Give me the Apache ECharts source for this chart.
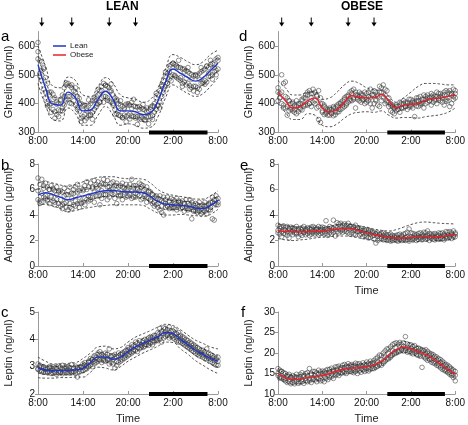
<!DOCTYPE html>
<html><head><meta charset="utf-8">
<script src="https://cdn.jsdelivr.net/npm/echarts@6/dist/echarts.min.js"></script>
<style>html,body{margin:0;padding:0;background:#fff}#c{width:468px;height:425px}</style>
</head><body><div id="c"></div>
<script>
// ---- data (hours since 8:00) ----
const TICK_LABELS = ['8:00','14:00','20:00','2:00','8:00'];
const MEALS = [0.5, 4.5, 9.5, 13];
const SLEEP = [14.8, 22.6];
const KNOTS = [0,1,2,3,4,5,6,7,8,9,10,11,12,13,14,15,16,17,18,19,20,21,22,23,24];
const TIMES = [0,0.25,0.5,0.75,1,1.25,1.5,1.75,2,2.25,2.5,2.75,3,3.25,3.5,3.75,4,4.25,4.5,4.75,5,5.25,5.5,5.75,6,6.25,6.5,6.75,7,7.25,7.5,7.75,8,8.25,8.5,8.75,9,9.25,9.5,9.75,10,10.25,10.5,10.75,11,11.25,11.5,11.75,12,12.25,12.5,12.75,13,13.25,13.5,13.75,14,14.25,14.5,14.75,15,15.25,15.5,15.75,16,16.25,16.5,16.75,17,17.25,17.5,17.75,18,18.25,18.5,18.75,19,19.25,19.5,19.75,20,20.25,20.5,20.75,21,21.25,21.5,21.75,22,22.25,22.5,22.75,23,23.25,23.5,23.75,24];

// a: lean ghrelin
const ghrLeanMean = [535,455,398,395,440,420,375,378,415,443,415,375,375,372,362,368,410,475,520,505,490,478,490,515,540];
const ghrLeanOutUp = [600,530,460,455,492,480,430,425,460,490,470,430,420,415,405,415,455,520,570,560,545,535,545,570,585];
const ghrLeanInUp = [565,485,425,420,465,448,400,402,440,468,442,400,398,395,385,392,435,500,545,530,515,505,515,540,560];
const ghrLeanInLo = [505,425,370,368,412,392,350,352,390,418,388,350,350,348,338,342,385,450,495,480,465,452,465,490,515];
const ghrLeanOutLo = [470,395,345,340,385,365,325,325,360,390,360,325,330,325,315,318,355,420,465,450,435,425,435,460,490];
const ghrLeanA = [612,548,545,520,490,470,430,440,415,420,405,400,410,430,455,465,470,462,455,445,440,425,418,400,390,395,385,392,400,410,412,425,430,445,460,470,465,460,455,445,430,420,410,400,395,390,385,398,400,395,405,392,390,388,380,385,380,378,385,375,380,392,400,420,430,445,460,480,495,505,530,535,540,535,530,525,525,520,510,515,510,505,500,495,500,495,505,510,515,520,530,525,535,540,525,555,550];
const ghrLeanB = [580,505,480,450,420,400,395,370,380,350,362,378,375,385,395,410,415,425,400,410,395,380,372,338,355,362,350,358,360,370,380,388,398,405,420,425,425,420,410,405,395,380,365,360,358,352,360,355,360,365,358,355,350,355,345,352,350,345,352,355,355,360,370,380,392,405,425,440,460,470,485,495,500,495,490,485,480,470,475,465,470,462,455,460,460,455,450,470,470,480,475,495,495,500,510,515,520];
const ghrLeanC = [555,495,515,525,440,392,440,400,433,372,398,355,415,375,425,472,425,402,465,427,455,387,400,349,395,341,375,413,363,346,420,400,450,405,445,405,463,412,443,468,400,362,415,376,410,351,380,337,395,347,383,415,357,328,390,358,397,342,372,330,388,345,390,436,395,385,465,452,510,470,510,479,540,498,525,550,490,460,520,487,525,450,485,444,498,439,485,525,475,467,530,505,550,485,535,500,560];

// b: lean adiponectin
const adiLeanMean = [5.55,5.75,5.6,5.4,5.2,5.35,5.5,5.65,5.8,5.9,5.92,5.85,5.8,5.8,5.75,5.45,5.05,4.85,4.8,4.75,4.7,4.55,4.5,4.75,5.15];
const adiLeanOutUp = [6.5,6.6,6.5,6.35,6.25,6.4,6.6,6.8,6.95,7.0,7.0,6.9,6.85,6.85,6.8,6.5,6.0,5.7,5.55,5.45,5.35,5.25,5.25,5.5,5.9];
const adiLeanInUp = [6.0,6.2,6.05,5.85,5.65,5.8,5.95,6.1,6.25,6.35,6.37,6.3,6.25,6.25,6.2,5.9,5.5,5.25,5.15,5.1,5.05,4.9,4.85,5.1,5.5];
const adiLeanInLo = [5.1,5.3,5.15,4.95,4.75,4.9,5.05,5.2,5.35,5.45,5.47,5.4,5.35,5.35,5.3,5.0,4.6,4.45,4.45,4.4,4.35,4.2,4.15,4.4,4.8];
const adiLeanOutLo = [4.75,4.85,4.7,4.5,4.25,4.35,4.5,4.6,4.7,4.75,4.8,4.8,4.8,4.8,4.75,4.45,4.15,4.0,4.0,4.05,4.0,3.95,3.9,4.05,4.45];
const adiLeanA = [6.9,6.4,6.8,6.3,6.5,6.2,6.0,6.3,6.1,5.9,6.2,5.8,5.9,5.8,6.1,5.6,5.9,6.2,5.7,6.0,6.2,6.4,5.9,6.1,6.0,6.3,6.6,6.2,6.5,6.2,6.7,6.4,6.6,6.3,6.5,6.8,6.4,6.7,6.2,6.5,6.6,6.3,6.5,6.2,6.3,6.5,6.1,6.4,6.2,6.4,6.8,6.3,6.3,6.1,6.5,6.2,6.3,6.0,6.2,5.9,5.8,5.6,5.4,5.5,5.3,5.5,5.1,5.4,5.2,5.4,5.0,5.3,5.2,5.1,5.3,5.0,5.0,5.1,4.9,5.2,4.9,5.2,5.0,4.8,4.9,4.8,5.0,4.7,4.8,5.0,4.7,4.9,5.0,5.4,5.2,5.5,5.0];
const adiLeanB = [5.2,4.9,5.0,5.4,5.3,5.1,4.9,5.5,5.1,4.8,5.2,4.9,4.7,4.5,4.9,4.6,4.4,4.6,4.5,4.8,4.7,4.9,4.6,5.0,5.0,4.8,5.2,5.1,5.2,5.4,5.0,5.5,5.5,4.8,5.3,5.6,5.6,5.2,5.4,5.7,5.6,5.3,4.9,5.5,5.5,5.2,5.6,5.4,5.5,5.6,5.3,5.4,5.4,5.6,5.5,5.2,5.3,5.5,5.0,5.3,5.1,4.9,4.7,4.8,4.6,4.4,4.2,4.0,4.6,4.7,4.5,4.6,4.5,4.6,4.4,4.7,4.5,4.6,4.3,4.5,4.4,4.5,3.7,4.3,4.3,4.2,4.3,4.1,4.2,4.3,4.1,4.4,4.4,3.7,3.6,4.8,4.8];
const adiLeanC = [5.9,5.1,5.7,6.1,5.5,5.2,6.0,5.4,6.0,5.0,5.6,5.9,5.2,4.8,5.5,5.0,5.6,4.9,5.3,5.7,5.1,5.8,5.4,4.9,5.9,5.3,6.0,5.5,5.4,6.1,5.8,6.2,6.1,5.5,5.9,6.4,5.6,6.2,5.9,6.0,6.1,5.7,6.3,5.8,5.6,6.2,5.8,6.0,6.0,5.7,5.9,6.1,5.7,6.0,5.9,6.4,5.9,5.6,5.4,5.8,5.2,5.6,5.0,5.3,4.9,5.2,4.7,5.0,4.9,4.7,5.1,4.8,4.6,4.9,4.8,5.1,4.8,4.6,4.9,4.7,4.5,4.8,4.6,4.4,4.6,4.4,4.7,4.5,4.4,4.7,4.5,4.8,4.6,5.0,4.9,5.2,5.3];

// c: lean leptin
const lepLeanMean = [2.95,2.88,2.85,2.86,2.87,2.88,2.95,3.15,3.35,3.35,3.27,3.35,3.55,3.72,3.85,3.97,4.1,4.25,4.2,4.0,3.8,3.6,3.45,3.3,3.2];
const lepLeanOutUp = [3.35,3.2,3.1,3.1,3.12,3.15,3.3,3.5,3.72,3.75,3.65,3.7,3.9,4.08,4.2,4.32,4.45,4.55,4.5,4.35,4.15,3.97,3.85,3.72,3.65];
const lepLeanInUp = [3.13,3.05,3.0,3.01,3.02,3.03,3.12,3.32,3.52,3.53,3.45,3.52,3.72,3.9,4.02,4.14,4.27,4.42,4.37,4.18,3.98,3.79,3.65,3.51,3.42];
const lepLeanInLo = [2.77,2.71,2.7,2.71,2.72,2.73,2.78,2.98,3.18,3.17,3.09,3.18,3.38,3.54,3.68,3.8,3.93,4.08,4.03,3.82,3.62,3.41,3.25,3.09,2.98];
const lepLeanOutLo = [2.6,2.58,2.58,2.6,2.6,2.62,2.62,2.8,2.98,2.95,2.88,3.0,3.2,3.35,3.5,3.62,3.75,3.9,3.88,3.65,3.45,3.22,3.05,2.88,2.75];
const lepLeanA = [3.1,3.05,2.98,3.0,2.95,2.92,3.0,2.97,3.0,2.95,2.98,3.02,2.98,3.05,2.95,3.0,3.0,2.97,3.08,2.95,3.02,2.95,2.98,3.0,3.1,3.15,3.05,3.2,3.3,3.25,3.4,3.35,3.5,3.55,3.45,3.4,3.5,3.45,3.65,3.4,3.4,3.45,3.35,3.5,3.45,3.5,3.55,3.6,3.7,3.65,3.8,3.75,3.9,3.85,3.95,3.8,3.95,4.0,3.9,4.05,4.1,4.05,4.15,4.0,4.25,4.4,4.3,4.42,4.4,4.35,4.45,4.3,4.3,4.35,4.2,4.25,4.15,4.1,4.05,4.0,3.95,3.9,3.85,3.8,3.75,3.7,3.65,3.6,3.6,3.55,3.65,3.5,3.45,3.4,3.35,3.3,3.35];
const lepLeanB = [2.9,2.85,2.82,2.8,2.8,2.78,2.82,2.75,2.75,2.8,2.72,2.78,2.78,2.74,2.8,2.76,2.8,2.76,2.78,2.82,2.75,2.62,2.8,2.85,2.85,2.9,2.92,3.0,3.05,3.0,3.1,3.15,3.2,3.25,3.15,3.22,3.2,3.25,3.1,3.15,3.1,2.95,3.05,3.15,3.2,3.25,3.3,3.35,3.4,3.45,3.5,3.55,3.6,3.55,3.65,3.7,3.7,3.75,3.8,3.78,3.85,3.8,3.9,3.95,3.95,4.0,3.9,4.05,4.1,4.15,4.05,4.1,4.05,4.0,3.95,3.9,3.9,3.85,3.8,3.75,3.7,3.65,3.6,3.55,3.5,3.45,3.4,3.45,3.35,3.3,3.28,3.3,3.2,3.15,3.1,3.05,3.05];
const lepLeanC = [2.92,3.0,2.85,2.95,2.9,2.82,2.95,2.86,2.88,2.8,2.92,2.84,2.82,2.9,2.85,2.95,2.9,2.85,2.82,2.93,2.85,2.95,2.9,2.98,2.98,3.05,3.0,3.15,3.18,3.25,3.2,3.32,3.3,3.42,3.35,3.28,3.38,3.3,3.25,3.35,3.25,3.32,3.2,3.38,3.32,3.45,3.4,3.48,3.6,3.55,3.68,3.62,3.75,3.7,3.82,3.78,3.88,3.82,3.95,3.9,4.0,3.95,4.08,4.05,4.15,4.1,4.22,4.2,4.28,4.2,4.25,4.18,4.15,4.2,4.08,4.1,4.02,3.95,3.9,3.85,3.82,3.75,3.68,3.7,3.62,3.55,3.5,3.52,3.42,3.45,3.38,3.35,3.28,3.32,3.22,3.25,3.2];

// d: obese ghrelin
const ghrObMean = [440,410,385,390,410,420,385,370,380,405,428,422,420,420,432,410,385,395,398,400,412,418,420,425,430];
const ghrObUp = [480,455,430,430,440,440,415,420,440,465,478,470,455,448,445,425,405,420,440,460,470,470,468,465,465];
const ghrObLo = [400,370,345,345,365,360,325,320,330,350,365,370,372,370,375,360,350,352,352,350,355,358,362,370,385];
const ghrObA = [440,435,500,470,475,420,410,400,405,395,410,400,400,415,420,430,440,445,435,450,440,430,445,420,400,390,385,375,385,380,390,385,395,400,405,410,415,425,430,440,445,450,440,430,440,435,430,420,435,440,450,430,445,440,430,460,455,465,450,445,420,395,390,385,395,390,405,400,410,405,400,415,415,410,405,420,420,425,415,430,425,430,420,435,430,425,440,435,435,430,440,445,440,445,435,450,445];
const ghrObB = [410,420,400,385,385,360,375,380,375,380,365,372,380,378,390,395,395,400,390,405,400,385,345,335,370,362,365,360,360,365,358,362,370,372,380,385,390,395,405,410,410,415,385,420,410,405,412,400,405,410,400,385,400,410,395,390,410,420,400,405,390,375,370,365,375,380,370,385,385,390,380,388,390,385,355,392,390,395,400,385,400,405,410,395,405,410,400,412,410,405,395,408,410,390,400,415,420];
const ghrObC = [455,420,440,395,425,390,410,385,400,370,390,395,385,410,395,420,430,400,420,435,410,425,390,400,375,395,370,380,380,368,385,372,390,380,400,395,420,400,425,415,435,420,430,415,425,430,415,440,415,425,420,430,430,415,425,440,440,425,430,410,405,400,395,385,390,380,395,385,400,390,405,395,395,405,400,410,410,400,405,415,415,420,410,425,420,415,425,418,425,420,430,415,420,435,430,425,435];

// e: obese adiponectin
const adiObMean = [2.75,2.72,2.7,2.68,2.7,2.72,2.75,2.82,2.9,2.95,2.9,2.75,2.6,2.45,2.35,2.25,2.2,2.2,2.25,2.3,2.32,2.3,2.3,2.4,2.45];
const adiObUp = [3.3,3.2,3.1,3.05,3.05,3.0,3.0,3.1,3.25,3.3,3.25,3.15,3.05,2.9,2.8,2.75,2.85,3.05,3.25,3.4,3.45,3.4,3.35,3.32,3.3];
const adiObLo = [2.15,2.05,2.0,2.05,2.1,2.2,2.25,2.3,2.35,2.35,2.3,2.2,2.1,2.0,1.95,1.9,1.9,1.9,1.9,1.92,1.95,1.98,2.0,2.05,2.1];
const adiObA = [3.2,3.1,3.05,3.15,3.0,3.1,2.95,3.05,3.0,2.95,3.1,2.9,2.95,3.0,3.1,2.9,3.0,2.95,3.05,3.1,3.0,2.95,3.1,3.0,3.05,3.0,3.55,2.95,3.1,3.0,3.6,3.05,3.4,3.3,3.35,3.2,3.3,3.2,3.35,3.15,3.1,3.05,3.2,2.95,2.9,2.95,2.8,2.85,2.85,2.8,2.75,2.7,2.65,2.55,2.6,2.5,2.55,2.6,2.5,2.45,2.45,2.5,2.4,2.35,2.4,2.45,2.5,2.4,2.5,2.55,2.65,2.9,2.6,2.55,2.5,2.45,2.55,2.6,2.5,2.65,2.6,2.75,2.55,2.5,2.5,2.55,2.45,2.6,2.55,2.6,2.5,2.7,2.65,2.7,2.6,2.75,2.6];
const adiObB = [2.6,2.5,2.3,2.55,2.5,2.4,2.2,2.6,2.45,2.6,2.5,2.3,2.5,2.4,2.6,2.45,2.55,2.4,2.5,2.6,2.5,2.6,2.45,2.55,2.6,2.5,2.55,2.4,2.6,2.5,2.65,2.35,2.7,2.6,2.75,2.65,2.75,2.7,2.6,2.5,2.6,2.5,2.45,2.7,2.45,2.5,2.3,2.4,2.3,2.2,2.25,2.35,2.1,1.8,2.0,2.15,2.15,2.05,2.1,2.0,2.05,1.95,2.0,2.1,2.0,1.95,2.05,2.0,2.05,2.0,2.1,1.95,2.1,2.05,2.15,2.0,2.1,2.15,2.05,2.2,2.1,2.15,2.0,2.2,2.1,2.05,2.15,2.1,2.1,2.15,2.05,2.2,2.2,2.25,2.15,2.3,2.3];
const adiObC = [2.8,2.95,2.7,2.85,2.8,2.65,2.9,2.75,2.75,2.85,2.6,2.8,2.7,2.85,2.65,2.75,2.8,2.65,2.9,2.7,2.75,2.85,2.7,2.8,2.85,2.7,2.9,2.8,2.9,2.75,2.95,2.85,3.0,2.9,3.1,2.85,3.05,2.9,2.95,3.1,2.95,2.8,2.85,3.0,2.7,2.8,2.6,2.75,2.55,2.65,2.5,2.6,2.4,2.5,2.35,2.45,2.3,2.4,2.25,2.35,2.2,2.3,2.15,2.25,2.25,2.15,2.2,2.3,2.15,2.25,2.3,2.2,2.3,2.2,2.35,2.25,2.35,2.25,2.3,2.4,2.3,2.4,2.25,2.35,2.35,2.25,2.3,2.4,2.25,2.35,2.4,2.3,2.45,2.35,2.5,2.4,2.5];

// f: obese leptin
const lepObMean = [15.0,14.0,13.5,13.7,14.0,14.3,14.5,15.0,15.6,16.1,16.3,16.4,16.7,17.1,18.0,19.5,20.8,21.4,21.0,20.3,19.6,18.6,17.3,16.0,14.8];
const lepObUp = [16.2,15.0,14.6,14.8,15.0,15.3,15.5,15.9,16.5,17.0,17.2,17.3,17.6,18.2,19.3,20.8,22.0,22.8,22.3,21.5,20.7,19.7,18.4,17.1,16.0];
const lepObLo = [13.8,12.9,12.4,12.6,12.9,13.2,13.4,13.9,14.5,15.0,15.2,15.4,15.7,16.0,16.8,18.2,19.6,20.1,19.8,19.1,18.5,17.5,16.2,14.9,13.7];
const lepObA = [16.2,15.8,15.5,15.2,15.0,14.6,14.8,14.2,14.5,14.2,14.8,14.0,14.8,15.2,14.6,15.0,15.2,16.2,15.0,15.5,15.5,15.2,15.8,15.4,15.6,15.4,15.8,16.0,16.0,16.3,15.8,16.6,16.6,16.8,16.4,17.0,17.2,16.8,17.4,17.0,17.2,17.0,17.5,17.3,17.4,17.0,17.6,17.2,17.8,17.5,18.0,17.6,18.2,18.6,19.0,19.5,19.4,20.0,20.5,21.0,21.0,21.5,22.0,22.3,22.5,22.2,22.6,22.0,22.5,24.0,22.2,22.0,22.0,21.6,21.8,21.2,21.2,21.0,20.8,20.6,20.8,20.4,20.0,19.8,19.6,19.2,19.0,18.6,18.4,18.0,17.6,17.2,17.0,16.6,16.2,15.8,15.5];
const lepObB = [14.5,13.8,14.0,13.5,13.2,12.8,13.0,12.5,12.8,12.5,13.0,12.6,12.8,13.0,12.6,13.2,13.0,13.2,12.8,13.5,13.4,13.0,13.6,13.2,13.4,13.0,13.8,13.5,14.0,14.2,13.8,14.5,14.8,14.5,15.0,15.2,15.2,15.0,15.4,15.5,15.4,15.2,15.5,15.0,15.6,15.3,15.8,15.5,15.8,15.6,16.0,16.2,16.2,16.5,16.8,17.2,17.0,17.5,18.0,18.5,18.6,19.0,19.5,19.8,20.0,20.2,20.5,20.8,20.5,20.6,20.2,20.4,20.0,19.8,20.2,19.6,19.4,19.2,16.5,19.0,18.6,18.2,18.4,17.8,17.6,17.4,17.0,16.8,16.4,16.0,15.8,15.5,15.2,14.8,14.5,14.0,13.2];
const lepObC = [15.0,14.2,15.5,14.0,13.8,14.3,13.5,14.0,13.8,13.2,14.0,13.6,14.0,13.5,14.2,13.8,14.4,13.8,14.6,14.0,14.5,14.0,14.8,14.2,14.8,14.4,15.0,14.6,15.3,14.9,15.5,15.2,15.8,15.4,16.0,15.7,16.4,15.9,16.5,16.0,16.6,16.0,16.5,16.2,16.7,16.2,16.8,16.4,17.0,16.5,17.2,16.8,17.4,17.0,17.8,17.5,18.3,18.0,19.0,18.8,19.8,19.4,20.5,20.2,21.2,20.6,21.5,21.0,21.6,21.0,21.4,20.8,21.2,20.6,20.9,20.3,20.5,19.8,20.2,19.6,19.8,19.2,19.4,18.6,18.8,18.0,18.2,17.4,17.6,16.8,16.9,16.0,16.2,15.4,15.6,14.8,14.6];

// ---- panels ----
const FONT = 'Liberation Sans, Arial, Helvetica, sans-serif';
const panels = [
  {grid:{left:38, top:31.5, width:180, height:101}, min:300, max:650, step:100, ticks:[300,400,500,600], yName:'Ghrelin (pg/ml)', mean:ghrLeanMean, bands:[ghrLeanOutUp,ghrLeanInUp,ghrLeanInLo,ghrLeanOutLo], pts:[ghrLeanA,ghrLeanB,ghrLeanC], color:'#1f35c4', name:'Lean', time:false, arrows:true},
  {grid:{left:38, top:164, width:180, height:102}, min:0, max:8, step:2, ticks:[0,2,4,6,8], yName:'Adiponectin (\u03bcg/ml)', mean:adiLeanMean, bands:[adiLeanOutUp,adiLeanInUp,adiLeanInLo,adiLeanOutLo], pts:[adiLeanA,adiLeanB,adiLeanC], color:'#1f35c4', name:'LeanB', time:false},
  {grid:{left:38, top:312, width:180, height:85}, min:2, max:5, step:1, ticks:[2,3,4,5], yName:'Leptin (ng/ml)', mean:lepLeanMean, bands:[lepLeanOutUp,lepLeanInUp,lepLeanInLo,lepLeanOutLo], pts:[lepLeanA,lepLeanB,lepLeanC], color:'#1f35c4', name:'LeanC', time:true},
  {grid:{left:278, top:31.5, width:180, height:101}, min:300, max:650, step:100, ticks:[300,400,500,600], yName:'Ghrelin (pg/ml)', mean:ghrObMean, bands:[ghrObUp,ghrObLo], pts:[ghrObA,ghrObB,ghrObC], color:'#e8202a', name:'Obese', time:false, arrows:true},
  {grid:{left:278, top:164, width:180, height:102}, min:0, max:8, step:2, ticks:[0,2,4,6,8], yName:'Adiponectin (\u03bcg/ml)', mean:adiObMean, bands:[adiObUp,adiObLo], pts:[adiObA,adiObB,adiObC], color:'#e8202a', name:'ObeseE', time:true},
  {grid:{left:278, top:312, width:180, height:85}, min:10, max:30, step:5, ticks:[10,15,20,25,30], yName:'Leptin (ng/ml)', mean:lepObMean, bands:[lepObUp,lepObLo], pts:[lepObA,lepObB,lepObC], color:'#e8202a', name:'ObeseF', time:true}
];

const grids = [], xAxes = [], yAxes = [], series = [];
panels.forEach((p, i) => {
  grids.push(p.grid);
  xAxes.push({
    type:'value', gridIndex:i, min:0, max:24, interval:6,
    name: p.time ? 'Time' : '', nameLocation:'middle', nameGap:19,
    nameTextStyle:{fontFamily:FONT, fontSize:11, color:'#222'},
    axisLine:{lineStyle:{color:'#9a9a9a', width:1}},
    axisTick:{inside:true, length:3, lineStyle:{color:'#9a9a9a'}},
    axisLabel:{fontFamily:FONT, fontSize:10, color:'#111', margin:4, formatter:v => TICK_LABELS[Math.round(v/6)]},
    splitLine:{show:false}
  });
  yAxes.push({
    type:'value', gridIndex:i, min:p.min, max:p.max, interval:p.step,
    name:p.yName, nameLocation:'middle', nameGap:24, nameRotate:90,
    nameTextStyle:{fontFamily:FONT, fontSize:11, color:'#222'},
    axisLine:{show:true, lineStyle:{color:'#9a9a9a', width:1}},
    axisTick:{show:true, length:3, lineStyle:{color:'#9a9a9a'}, customValues:p.ticks},
    axisLabel:{fontFamily:FONT, fontSize:10, color:'#111', margin:3, customValues:p.ticks},
    splitLine:{show:false}
  });
  let pts = [];
  p.pts.forEach(arr => { pts = pts.concat(TIMES.map((t, k) => [t, arr[k]])); });
  series.push({
    type:'scatter', xAxisIndex:i, yAxisIndex:i, data:pts, symbol:'circle', symbolSize:4.6,
    itemStyle:{color:'rgba(255,255,255,0)', borderColor:'#3a3a3a', borderWidth:0.7}, z:2, silent:true
  });
  p.bands.forEach(b => {
    series.push({
      type:'line', xAxisIndex:i, yAxisIndex:i, data:KNOTS.map((t, k) => [t, b[k]]), smooth:0.5,
      showSymbol:false, lineStyle:{color:'#222', width:0.8, type:[2.5,2]}, z:3, silent:true
    });
  });
  series.push({
    name:p.name, type:'line', xAxisIndex:i, yAxisIndex:i, data:KNOTS.map((t, k) => [t, p.mean[k]]), smooth:0.5,
    showSymbol:false, lineStyle:{color:p.color, width:1.4}, itemStyle:{color:p.color}, z:4, silent:true
  });
  series.push({
    type:'line', xAxisIndex:i, yAxisIndex:i, data:[[SLEEP[0], p.min],[SLEEP[1], p.min]],
    showSymbol:false, clip:false, lineStyle:{color:'#000', width:4, cap:'butt'}, z:6, silent:true
  });
  if (p.arrows) {
    series.push({
      type:'custom', xAxisIndex:i, yAxisIndex:i, data:MEALS.map(m => [m, p.max]), clip:false, z:6, silent:true,
      renderItem:(params, api) => {
        const pt = api.coord([api.value(0), api.value(1)]);
        const x = pt[0], top = pt[1];
        return {type:'group', children:[
          {type:'line', shape:{x1:x, y1:top-14, x2:x, y2:top-8}, style:{stroke:'#000', lineWidth:1}},
          {type:'polygon', shape:{points:[[x-2.6, top-9],[x+2.6, top-9],[x, top-5]]}, style:{fill:'#000'}}
        ]};
      }
    });
  }
});

const option = {
  animation:false,
  backgroundColor:'#fff',
  textStyle:{fontFamily:FONT},
  grid:grids, xAxis:xAxes, yAxis:yAxes, series:series,
  legend:{
    data:['Lean','Obese'], orient:'vertical', left:48, top:37, itemWidth:13, itemHeight:1.5, itemGap:1,
    icon:'rect', selectedMode:false, textStyle:{fontFamily:FONT, fontSize:8, color:'#222', padding:[0,0,0,-1]}
  },
  graphic:[
    {type:'text', left:106, top:1, style:{text:'LEAN', font:'bold 12px '+FONT, fill:'#000'}},
    {type:'text', left:341, top:1, style:{text:'OBESE', font:'bold 12px '+FONT, fill:'#000'}},
    {type:'text', left:1, top:29, style:{text:'a', font:'15px '+FONT, fill:'#000'}},
    {type:'text', left:1, top:158, style:{text:'b', font:'15px '+FONT, fill:'#000'}},
    {type:'text', left:1, top:305, style:{text:'c', font:'15px '+FONT, fill:'#000'}},
    {type:'text', left:239, top:29, style:{text:'d', font:'15px '+FONT, fill:'#000'}},
    {type:'text', left:240, top:158, style:{text:'e', font:'15px '+FONT, fill:'#000'}},
    {type:'text', left:241, top:305, style:{text:'f', font:'15px '+FONT, fill:'#000'}}
  ]
};
echarts.init(document.getElementById('c'), null, {renderer:'canvas'}).setOption(option);
</script>
</body></html>
